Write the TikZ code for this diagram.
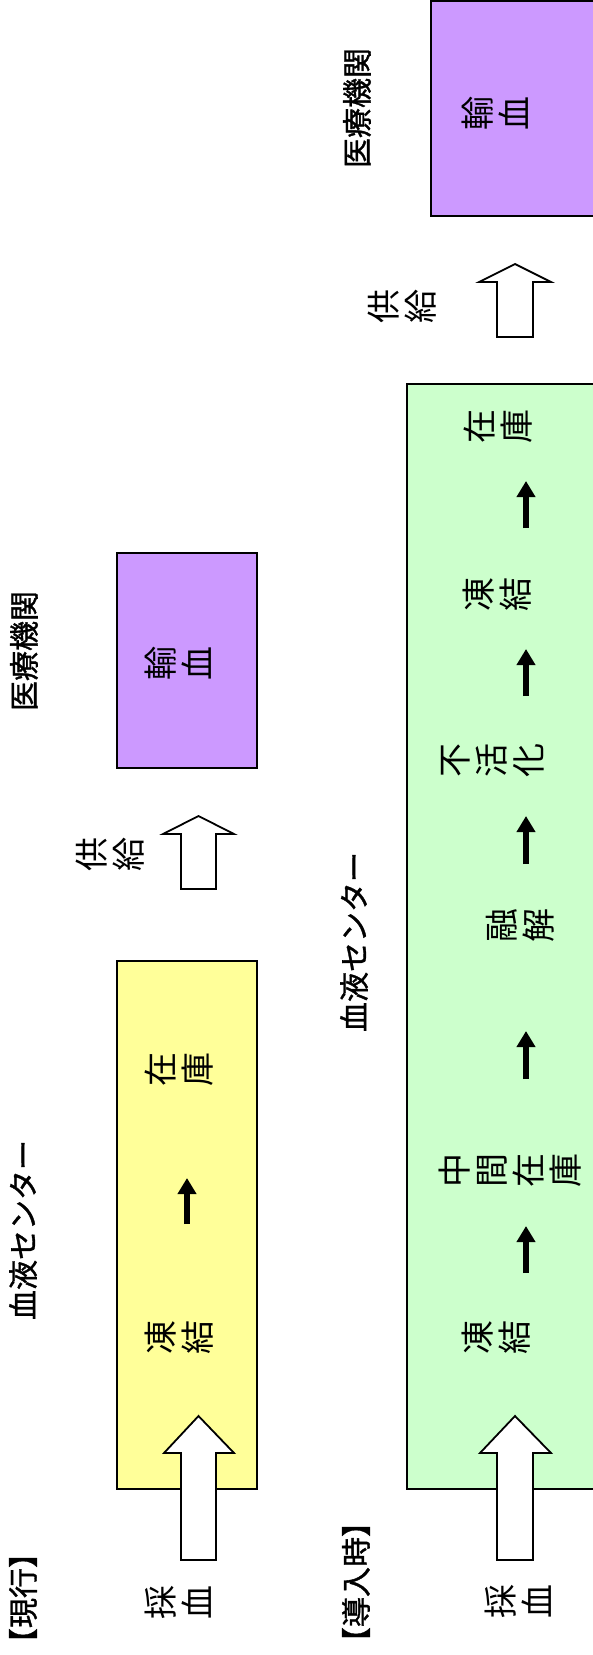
\documentclass[tikz,border=0pt]{standalone}
\usepackage{fontspec}
\setmainfont{Noto Sans CJK JP}
\newfontfamily\headfont{Noto Sans CJK JP}[FakeBold=1.2]
\usetikzlibrary{arrows.meta,positioning}
\definecolor{ctryellow}{HTML}{FFFF99}
\definecolor{hospurple}{HTML}{CC99FF}
\definecolor{newgreen}{HTML}{CCFFCC}

\begin{document}
\begin{tikzpicture}[x=1pt, y=-1pt,
                    box/.style = {draw, line width=1.5pt, inner sep=0pt},
                    head/.style = {rotate=90, inner sep=0pt, font=\fontsize{30}{30}\headfont},
                    lbl/.style = {rotate=90, align=center, inner sep=0pt, font=\fontsize{34}{37}\selectfont},
                    flow/.style = {line width=6pt, -{Triangle[length=16pt,width=18pt]}},
                    blk/.style = {draw, fill=white, line width=1.8pt, line join=miter}]
\useasboundingbox (0,0) rectangle (592,1655);
% boxes
\node[box, fill=ctryellow, minimum width=140pt, minimum height=528pt] (ctr1) at (187,1225) {};
\node[box, fill=hospurple, minimum width=140pt, minimum height=215pt] (hos1) at (187,660.5) {};
\node[box, fill=newgreen, minimum width=189pt, minimum height=1105pt] (ctr2) at (501.5,936.5) {};
\node[box, fill=hospurple, minimum width=165pt, minimum height=215pt] (hos2) at (513.5,108.5) {};
% big arrows
\draw[blk] (181,1560) -- (181,1453) -- (164,1453) -- (198.5,1416) -- (234,1453) -- (216,1453) -- (216,1560) -- cycle;
\draw[blk] (181,889) -- (181,834) -- (163,834) -- (198.5,816) -- (234,834) -- (216,834) -- (216,889) -- cycle;
\draw[blk] (497,1560) -- (497,1453) -- (480,1453) -- (515,1416) -- (551,1453) -- (533,1453) -- (533,1560) -- cycle;
\draw[blk] (497,337) -- (497,282) -- (479,282) -- (515,264) -- (551,282) -- (533,282) -- (533,337) -- cycle;
% headings
\node[head] (now) at (23,1598) {【現行】};
\node[head] (bc1) at (23,1230) {血液センター};
\node[head] (mi1) at (24,651) {医療機関};
\node[head] (intro) at (356,1582) {【導入時】};
\node[head] (bc2) at (354,942) {血液センター};
\node[head] (mi2) at (357,108) {医療機関};
% current flow
\node[lbl] (take1) at (178,1602) {採\\血};
\node[lbl] (frz1) at (179,1337) {凍\\結};
\node[lbl] (stk1) at (179,1069) {在\\庫};
\node[lbl] (sup1) at (110,854) {供\\給};
\node[lbl] (trf1) at (178,663) {輸\\血};
% new flow
\node[lbl] (take2) at (518,1601) {採\\血};
\node[lbl] (frz2) at (496,1337) {凍\\結};
\node[lbl] (mid2) at (510,1170) {中\\間\\在\\庫};
\node[lbl] (thaw2) at (520,925) {融\\解};
\node[lbl] (inact2) at (493,760) {不\\活\\化};
\node[lbl] (frz3) at (497,594) {凍\\結};
\node[lbl] (stk2) at (498,426) {在\\庫};
\node[lbl] (sup2) at (402,306) {供\\給};
\node[lbl] (trf2) at (495,113) {輸\\血};
% step arrows
\coordinate (col1) at (187,0);
\coordinate (col2) at (526,0);
\draw[flow, shorten <=113pt, shorten >=109pt] (col1 |- frz1) -- (col1 |- stk1);
\draw[flow, shorten <=64pt, shorten >=56pt] (col2 |- frz2) -- (col2 |- mid2);
\draw[flow, shorten <=91pt, shorten >=106pt] (col2 |- mid2) -- (col2 |- thaw2);
\draw[flow, shorten <=61pt, shorten >=56pt] (col2 |- thaw2) -- (col2 |- inact2);
\draw[flow, shorten <=64pt, shorten >=55pt] (col2 |- inact2) -- (col2 |- frz3);
\draw[flow, shorten <=66pt, shorten >=55pt] (col2 |- frz3) -- (col2 |- stk2);
\end{tikzpicture}
\end{document}
